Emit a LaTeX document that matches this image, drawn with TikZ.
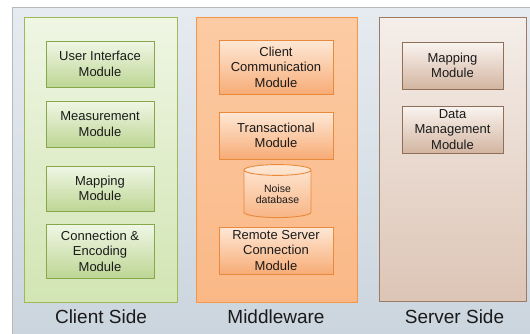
\documentclass[tikz,border=0pt]{standalone}
\usepackage{fontspec}
\setmainfont{Liberation Sans}
\usetikzlibrary{shapes.geometric,shadows,positioning}

\definecolor{bgtop}{HTML}{E6EBF0}
\definecolor{bgbot}{HTML}{CBD5DE}
\definecolor{clientline}{HTML}{9BBB59}
\definecolor{clienttop}{HTML}{EFF6E4}
\definecolor{clientbot}{HTML}{D2E5B3}
\definecolor{cmodtop}{HTML}{F0F7E6}
\definecolor{cmodbot}{HTML}{BDD694}
\definecolor{cmodline}{HTML}{86A84B}
\definecolor{midline}{HTML}{F79646}
\definecolor{midtop}{HTML}{FCCBA4}
\definecolor{midbot}{HTML}{FAB886}
\definecolor{mmodtop}{HTML}{FEE8D6}
\definecolor{mmodbot}{HTML}{F7AC76}
\definecolor{mmodline}{HTML}{E8893C}
\definecolor{servline}{HTML}{9C7B64}
\definecolor{servtop}{HTML}{F5EEE9}
\definecolor{servbot}{HTML}{DDC5B6}
\definecolor{smodtop}{HTML}{FAF4F0}
\definecolor{smodbot}{HTML}{D3B5A1}
\definecolor{smodline}{HTML}{8E6F5A}
\definecolor{txt}{HTML}{1A1A1A}

\tikzset{
    panel/.style={draw, line width=0.8pt, rectangle, inner sep=0pt},
    module/.style={draw, line width=0.9pt, rectangle, align=center, inner sep=1pt,
        text=txt, font=\fontsize{13}{15.5}\selectfont,
        drop shadow={opacity=0.2, shadow xshift=1pt, shadow yshift=-1.2pt}},
    cmod/.style={module, draw=cmodline, top color=cmodtop, bottom color=cmodbot,
        minimum width=108pt},
    mmod/.style={module, draw=mmodline, top color=mmodtop, bottom color=mmodbot,
        minimum width=114pt},
    smod/.style={module, draw=smodline, top color=smodtop, bottom color=smodbot,
        minimum width=101pt, minimum height=47pt},
    sidelabel/.style={text=txt, font=\fontsize{19}{21}\selectfont}
}

\begin{document}
\begin{tikzpicture}[x=1pt, y=-1pt]
    \useasboundingbox (0,0) rectangle (530,333);

    % Draw background.
    \shade[top color=bgtop, bottom color=bgbot] (12,7) rectangle (531,334);
    \draw[gray!55, line width=0.6pt] (12,334) -- (12,7) -- (531,7);

    % Draw the three panels.
    \node[panel, draw=clientline, top color=clienttop, bottom color=clientbot,
        minimum width=153pt, minimum height=285pt] (client) at (100.5,159.5) {};
    \node[panel, draw=midline, top color=midtop, bottom color=midbot,
        minimum width=161pt, minimum height=285pt] (middle) at (276.5,159.5) {};
    \node[panel, draw=servline, top color=servtop, bottom color=servbot,
        minimum width=147pt, minimum height=284pt] (server) at (452.5,159) {};

    % Client side modules.
    \node[cmod, minimum height=46pt] (ui) at (100,64) {User Interface\\Module};
    \node[cmod, minimum height=46pt] (meas) at (100,124) {Measurement\\Module};
    \node[cmod, minimum height=45pt] (cmap) at (100,188.5) {Mapping\\Module};
    \node[cmod, minimum height=54pt] (enc) at (100,251) {Connection \&\\Encoding\\Module};

    % Middleware modules.
    \node[mmod, minimum height=54pt] (comm) at (276,67) {Client\\Communication\\Module};
    \node[mmod, minimum height=47pt] (trans) at (276,135.5) {Transactional\\Module};
    \node[cylinder, shape border rotate=90, aspect=0.25, draw=mmodline, line width=0.9pt,
        top color=mmodtop, bottom color=mmodbot!85!mmodtop,
        minimum width=67pt, minimum height=53pt,
        align=center, text=txt, inner sep=0pt, font=\fontsize{10.5}{13}\selectfont]
        (noise) at (277.5,194) {\raisebox{-5pt}{\shortstack{Noise\\database}}};
    \node[mmod, minimum height=47pt] (remote) at (276,250.5) {Remote Server\\Connection\\Module};

    % Server side modules.
    \node[smod] (smap) at (452.5,65.5) {Mapping\\Module};
    \node[smod] (data) at (452.5,129.5) {Data\\Management\\Module};

    % Panel titles.
    \node[sidelabel] (clientlbl) at (101,317) {Client Side};
    \node[sidelabel] (midlbl) at (276,317) {Middleware};
    \node[sidelabel] (servlbl) at (454.5,317) {Server Side};
\end{tikzpicture}
\end{document}
